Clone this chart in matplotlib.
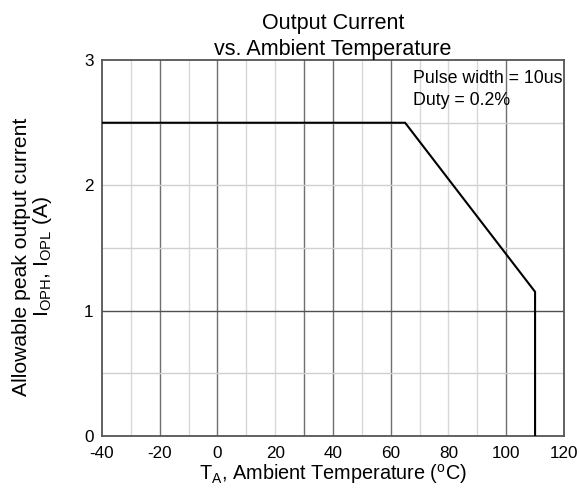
import matplotlib
matplotlib.use("Agg")
import matplotlib.pyplot as plt

plt.rcParams['font.family'] = ['Liberation Sans', 'DejaVu Sans']
plt.rcParams['mathtext.fontset'] = 'custom'
plt.rcParams['mathtext.rm'] = 'Liberation Sans'
plt.rcParams['mathtext.it'] = 'Liberation Sans'
plt.rcParams['axes.unicode_minus'] = False

# Data
temperature = [-40, 65, 110, 110]
current = [2.5, 2.5, 1.15, 0.0]
x_ticks = [-40, -20, 0, 20, 40, 60, 80, 100, 120]
y_ticks = [0, 1, 2, 3]

fig = plt.figure(figsize=(5.79, 4.93), dpi=100)
ax = fig.add_axes([0.176, 0.116, 0.798, 0.762])

dark_x = [-20, 0, 30, 40, 60, 100]
light_x = [-30, -10, 10, 20, 50, 70, 80, 90]
for x in light_x:
    ax.axvline(x, color='#d8d8d8', lw=1.0, zorder=1)
for x in dark_x:
    ax.axvline(x, color='#707070', lw=1.0, zorder=1)
for y in [0.5, 1.5, 2.0, 2.5]:
    ax.axhline(y, color='#d0d0d0', lw=1.0, zorder=1)
ax.axhline(1.0, color='#505050', lw=1.0, zorder=1)

ax.plot(temperature, current, color='black', lw=1.5, zorder=3, solid_joinstyle='miter')

ax.set_xlim(-40, 120)
ax.set_ylim(0, 3)
ax.set_xticks(x_ticks)
ax.set_yticks(y_ticks)
ax.tick_params(length=0, labelsize=12.3, colors='black')
ax.tick_params(axis='x', pad=7)
ax.tick_params(axis='y', pad=6)
for s in ax.spines.values():
    s.set_color('#555555')
    s.set_linewidth(1.3)

ax.set_xlabel(r"T$_\mathregular{A}$, Ambient Temperature ($^\mathregular{o}$C)", fontsize=14.3, labelpad=1)
fig.text(0.057, 0.48, "Allowable peak output current\n" + r"I$_\mathregular{OPH}$, I$_\mathregular{OPL}$ (A)",
         rotation=90, ha='center', va='center', fontsize=15.2, linespacing=1.05)
ax.set_title("Output Current\nvs. Ambient Temperature", fontsize=15.5, pad=3, linespacing=1.35)

ax.text(0.673, 0.975, "Pulse width = 10us\nDuty = 0.2%", transform=ax.transAxes,
        ha='left', va='top', fontsize=12.8, linespacing=1.4)

fig.savefig("out.png", dpi=100)
